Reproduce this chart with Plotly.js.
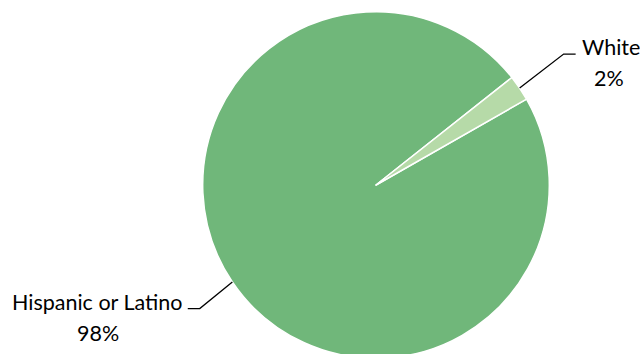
<!DOCTYPE html>
<html><head><meta charset="utf-8">
<script src="https://cdn.plot.ly/plotly-3.0.1.min.js"></script>
<style>html,body{margin:0;padding:0;overflow:hidden;background:#fff}</style>
</head><body><div id="chart"></div>
<script>
// ---- data ----
const categories = ['Hispanic or Latino', 'White'];
const values = [97.6, 2.4];
const sliceColors = ['#70B77A', '#B6DAA8'];

// ---- layout constants ----
const W = 640, H = 364;
const cx = 376, cy = 185, R = 173.3;
const rotation = 60.3;
const fontFamily = 'Lato, "Open Sans", sans-serif';
const fontSize = 21.5;
const lineGap = 31;
// leader-line geometry per label: elbow offset from slice edge, horizontal run, side
const leader = [
  {dx: -32.6, dy: 26.6, run: -12, side: 'left'},
  {dx: 44, dy: -34, run: 12, side: 'right'}
];

const total = values.reduce((a, b) => a + b, 0);
const px = x => x / W, py = y => 1 - y / H;

const ctx = document.createElement('canvas').getContext('2d');
ctx.font = fontSize + 'px Lato';

const shapes = [], annotations = [];
let cum = 0;
values.forEach((v, i) => {
  const mid = (rotation + (cum + v / 2) / total * 360) * Math.PI / 180;
  cum += v;
  const sx = cx + R * Math.sin(mid), sy = cy - R * Math.cos(mid);
  const L = leader[i];
  const ex = sx + L.dx, ey = sy + L.dy;
  const fx = ex + L.run;
  shapes.push({type: 'path', xref: 'paper', yref: 'paper',
    path: `M ${px(sx)} ${py(sy)} L ${px(ex)} ${py(ey)} L ${px(fx)} ${py(ey)}`,
    line: {color: '#000', width: 1.3}});
  const name = categories[i];
  const w = ctx.measureText(name).width;
  const tx = L.side === 'right' ? fx + 4 : fx - 4;
  const centre = L.side === 'right' ? tx + w / 2 : tx - w / 2;
  annotations.push({xref: 'paper', yref: 'paper', x: px(tx), y: py(ey - 7),
    xanchor: L.side === 'right' ? 'left' : 'right', yanchor: 'middle',
    text: name, showarrow: false, font: {family: fontFamily, size: fontSize, color: '#000'}});
  annotations.push({xref: 'paper', yref: 'paper', x: px(centre), y: py(ey - 7 + lineGap),
    xanchor: 'center', yanchor: 'middle',
    text: Math.round(v / total * 100) + '%', showarrow: false,
    font: {family: fontFamily, size: fontSize, color: '#000'}});
});

Plotly.newPlot('chart', [{
  type: 'pie', labels: categories, values: values, sort: false,
  direction: 'clockwise', rotation: rotation, textinfo: 'none', hoverinfo: 'none',
  marker: {colors: sliceColors, line: {color: '#fff', width: 1.5}},
  domain: {x: [px(cx - R), px(cx + R)], y: [py(cy + R), py(cy - R)]}
}], {
  width: W, height: H, margin: {l: 0, r: 0, t: 0, b: 0},
  showlegend: false, paper_bgcolor: '#fff',
  shapes: shapes, annotations: annotations
}, {staticPlot: true});
</script></body></html>
